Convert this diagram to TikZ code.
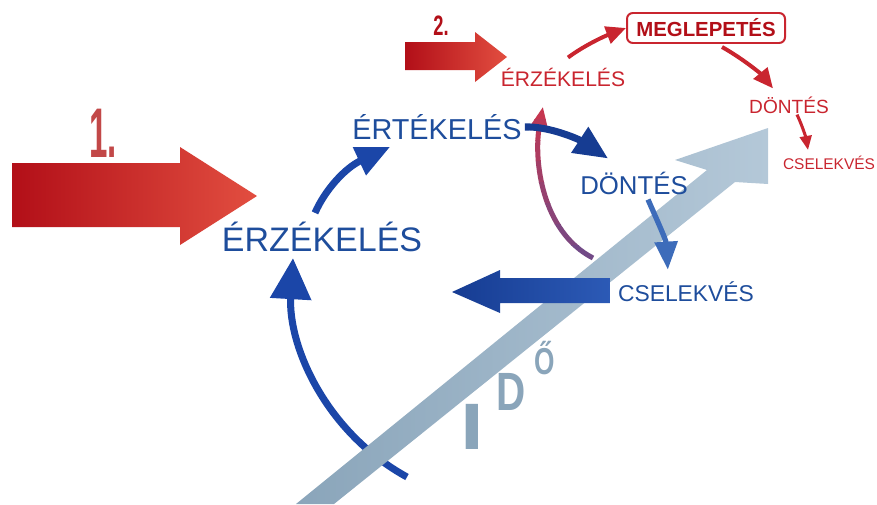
\documentclass[tikz,border=0pt]{standalone}
\usepackage{fontspec}
\setmainfont{Liberation Sans}
\usetikzlibrary{arrows.meta,calc,backgrounds}
\definecolor{oodaBlue}{HTML}{1E4D9C}
\definecolor{oodaArrow}{HTML}{1B46A8}
\definecolor{oodaLight}{HTML}{3D6CBA}
\definecolor{oodaNavy}{HTML}{163C92}
\definecolor{oodaSky}{HTML}{2C5AB6}
\definecolor{oodaRed}{HTML}{C9252F}
\definecolor{oodaDark}{HTML}{B20F18}
\definecolor{oodaCoral}{HTML}{E24E40}
\definecolor{oodaRose}{HTML}{C24848}
\definecolor{oodaWine}{HTML}{C63650}
\definecolor{oodaPlum}{HTML}{6A4C8C}
\definecolor{oodaSteel}{HTML}{B4C8D8}
\definecolor{oodaSteelDark}{HTML}{8AA5BA}
\tikzset{
  ooda blue/.style={font=\fontsize{#1}{#1}\selectfont, text=oodaBlue, inner sep=0pt},
  ooda red/.style={font=\fontsize{#1}{#1}\selectfont, text=oodaRed, inner sep=0pt},
  ooda number/.style={font=\bfseries\fontsize{#1}{#1}\selectfont, inner sep=0pt},
  ooda time/.style={font=\bfseries\fontsize{#1}{#1}\selectfont, text=oodaSteelDark, inner sep=0pt},
  ooda box/.style={draw=oodaRed, line width=1.7pt, rounded corners=5pt, fill=white,
    minimum width=4.74cm, minimum height=0.9cm, inner sep=0pt, text=oodaDark,
    font=\bfseries\fontsize{17.4}{17.4}\selectfont},
  ooda loop/.style={draw=oodaArrow, line width=6pt, -{Triangle[length=35pt,width=34pt]}},
  ooda flow/.style={draw=oodaArrow, line width=6pt, -{Triangle[length=29pt,width=25pt]}},
  ooda back/.style={line width=4.3pt, -{Triangle[length=17pt,width=13pt]}},
  ooda jump/.style={draw=oodaRed, line width=3.4pt, -{Triangle[length=17pt,width=15pt]}},
}
\begin{document}
\begin{tikzpicture}[x=0.03cm, y=-0.03cm]
  \useasboundingbox (0,0) rectangle (877,504);
  % First loop
  \node[ooda blue=29] (erz) at (322,237) {ÉRZÉKELÉS};
  \node[ooda blue=24.6] (ert) at (437,127) {ÉRTÉKELÉS};
  \node[ooda blue=22] (don) at (634,183) {DÖNTÉS};
  \node[ooda blue=19.5] (csel) at (686,292) {CSELEKVÉS};
  % Second loop
  \node[ooda red=18] (erzR) at (563,77) {ÉRZÉKELÉS};
  \node[ooda box] (meg) at (706,28) {MEGLEPETÉS};
  \node[ooda red=16.3] (donR) at (789,105) {DÖNTÉS};
  \node[ooda red=13.2] (cselR) at (829,163) {CSELEKVÉS};
  \node[ooda number=60, text=oodaRose] (one) at (103,133) {\scalebox{0.47}[1]{1.}};
  \node[ooda number=24, text=oodaDark] (two) at (441,26) {\scalebox{0.65}[1]{2.}};
  % Time letters
  \node[ooda time=56] (timeI) at (472,427) {\scalebox{1.3}[1]{I}};
  \node[ooda time=46] (timeD) at (511,392) {\scalebox{0.75}[1]{D}};
  \node[ooda time=32] (timeO) at (545,358) {\scalebox{0.7}[1]{Ő}};
  \coordinate (backStart) at (593,258);
  \coordinate (loopStart) at (407,477);
  \begin{scope}[on background layer]
    % Red input arrows
    \shade[left color=oodaDark, right color=oodaCoral]
      (12,163) -- (180,163) -- (180,147) -- (257,196) -- (180,245) -- (180,227) -- (12,227) -- cycle;
    \shade[left color=oodaDark, right color=oodaCoral]
      (405,42) -- (475,42) -- (475,32) -- (507,57) -- (475,82) -- (475,70) -- (405,70) -- cycle;
    % Way back to the second loop, red above and violet below
    \foreach \k in {0,...,7} {
      \pgfmathtruncatemacro\mix{100-\k*13}
      \begin{scope}
        \clip (500,{98+\k*21}) rectangle (640,{119+\k*21});
        \draw[ooda back, draw=oodaWine!\mix!oodaPlum] (backStart)
          .. controls (542,232) and (533,160) .. ($(erzR.south)+(-20,20)$);
      \end{scope}
    }
    \draw[ooda loop] (loopStart) .. controls (325,432) and (288,345) .. ($(erz.south)+(-29,6)$);
    % Time arrow
    \shade[left color=oodaSteelDark, right color=oodaSteel]
      (296,504) -- (707,170) -- (675,160) -- (768,128) -- (768,184) -- (735,182) -- (334,504) -- cycle;
    % Action arrow back to the first loop
    \shade[left color=oodaNavy, right color=oodaSky]
      ($(csel.west)+(-8,-14)$) -- (500,278) -- (500,270) -- (452,292) -- (500,313) -- (500,303)
      -- ($(csel.west)+(-8,11)$) -- cycle;
  \end{scope}
  \draw[ooda flow] ($(erz.north)+(-7,-9)$) .. controls (325,190) and (345,168) .. ($(ert.south west)+(38,7)$);
  \draw[ooda flow, draw=oodaNavy] ($(ert.east)+(3,0)$) .. controls (550,126) and (580,140) .. ($(don.north west)+(28,-13)$);
  \draw[ooda flow, draw=oodaLight, line width=4.5pt, -{Triangle[length=24pt,width=19pt]}]
    ($(don.south)+(14,5)$) .. controls (657,220) and (666,240) .. ($(csel.north west)+(50,-12)$);
  \draw[ooda jump] ($(erzR.north)+(5,-10)$) .. controls (585,45) and (605,36) .. (meg.west);
  \draw[ooda jump] ($(meg.south)+(16,3)$) .. controls (745,60) and (762,75) .. ($(donR.north)+(-16,-8)$);
  \draw[ooda jump, line width=2.6pt, -{Triangle[length=12pt,width=10pt]}]
    ($(donR.south)+(8,1)$) .. controls (802,125) and (806,138) .. ($(cselR.north)+(-21,-6)$);
\end{tikzpicture}
\end{document}
